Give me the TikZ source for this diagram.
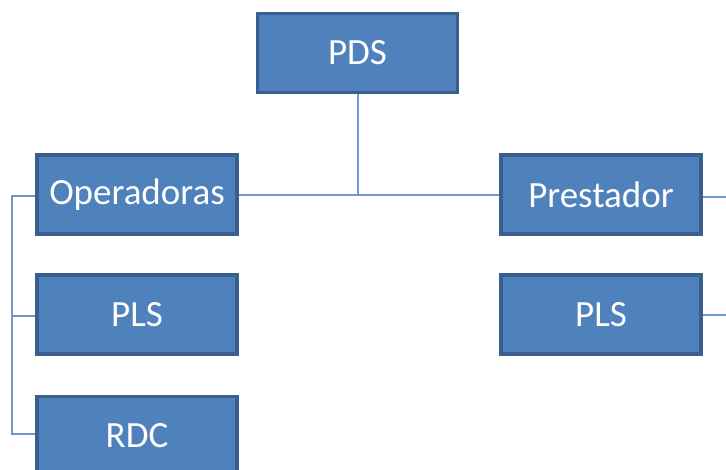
\documentclass[tikz,border=0pt]{standalone}
\usepackage{fontspec}
\setmainfont{Carlito}
\definecolor{boxfill}{HTML}{4F81BD}
\definecolor{boxline}{HTML}{3A5F8F}
\definecolor{conn}{HTML}{6E98CA}
\begin{document}
\begin{tikzpicture}[x=1pt,y=-1pt,
  orgbox/.style={draw=boxline, fill=boxfill, line width=3.5pt, minimum width=200pt, minimum height=79pt,
    inner sep=0pt, text=white, font=\fontsize{37}{40}\selectfont},
  link/.style={draw=conn, line width=2pt}]
\useasboundingbox (0,0) rectangle (726,469);
\clip (0,0) rectangle (726,469);
\fill[white] (0,0) rectangle (726,469);
\node[orgbox] (pds)  at (357.5,53)   {PDS};
\node[orgbox] (op)   at (137,194.5)  {Operadoras};
\node[orgbox] (pre)  at (601,194.5)  {Prestador};
\node[orgbox] (pls1) at (137,314.5)  {PLS};
\node[orgbox] (pls2) at (601,314.5)  {PLS};
\node[orgbox] (rdc)  at (137,436)    {RDC};
\coordinate (jn) at (357.5,195);
\coordinate (bx) at (12,196);
\coordinate (e1) at (726,197);
\coordinate (e2) at (726,315);
\draw[link] (pds.south) -- (jn);
\draw[link] (op.east |- jn) -- (pre.west |- jn);
\draw[link] (op.west |- bx) -- (bx) |- (rdc.west |- 0,434);
\draw[link] (bx |- 0,316) -- (pls1.west |- 0,316);
\draw[link] (pre.east |- e1) -- (e1);
\draw[link] (pls2.east |- e2) -- (e2);
\end{tikzpicture}
\end{document}
